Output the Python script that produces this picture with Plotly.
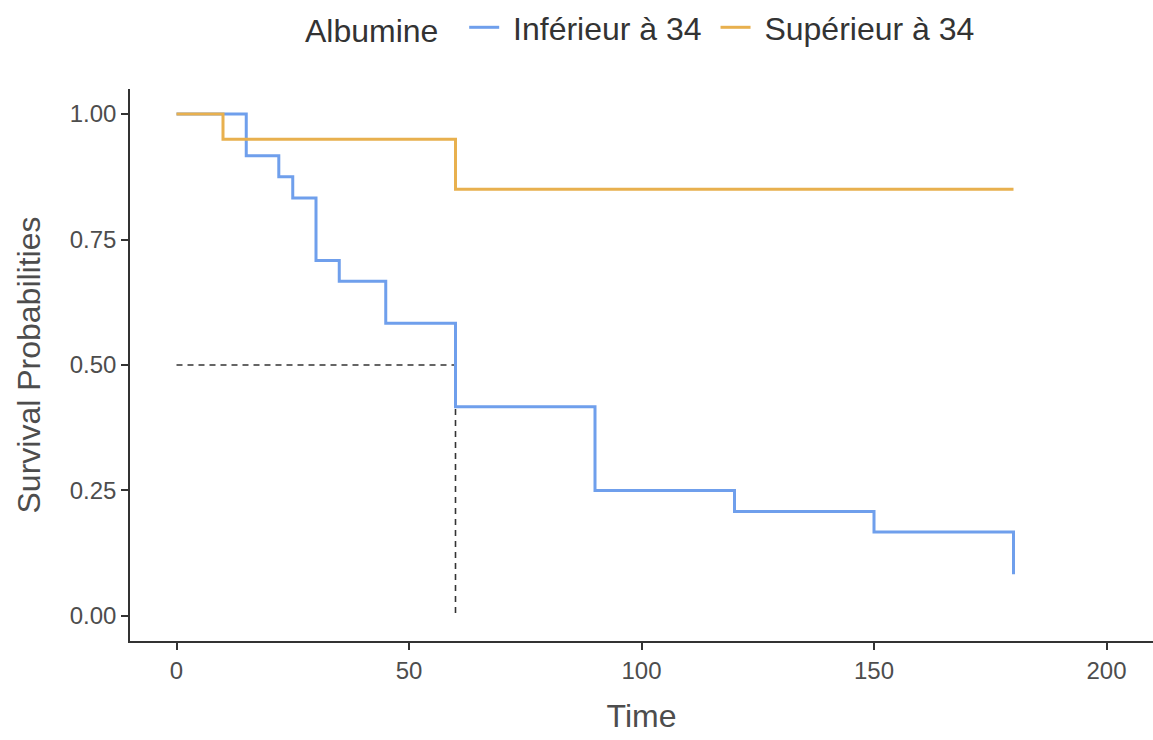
import plotly.graph_objects as go

# Kaplan-Meier step data
time_inf = [0, 15, 22, 25, 30, 35, 45, 60, 90, 120, 150, 180]
surv_inf = [1.0, 0.917, 0.875, 0.833, 0.708, 0.667, 0.583, 0.417, 0.25, 0.208, 0.167, 0.083]
time_sup = [0, 10, 60, 180]
surv_sup = [1.0, 0.95, 0.85, 0.85]

median_time = 60
median_surv = 0.5

x_ticks = [0, 50, 100, 150, 200]
y_ticks = [0, 0.25, 0.5, 0.75, 1.0]
y_tick_labels = ["0.00", "0.25", "0.50", "0.75", "1.00"]

col_inf = "#6F9FEC"
col_sup = "#E8B04E"
font_family = "Liberation Sans, Arial, sans-serif"

fig = go.Figure()

# median lines
fig.add_trace(go.Scatter(x=[0, median_time], y=[median_surv, median_surv], mode="lines",
                         line=dict(color="#333333", width=1.6, dash="6px,5px"),
                         showlegend=False, hoverinfo="skip"))
fig.add_trace(go.Scatter(x=[median_time, median_time], y=[median_surv, 0], mode="lines",
                         line=dict(color="#333333", width=1.6, dash="6px,5px"),
                         showlegend=False, hoverinfo="skip"))

fig.add_trace(go.Scatter(x=time_inf, y=surv_inf, mode="lines", line_shape="hv",
                         line=dict(color=col_inf, width=3), name=" Inférieur à 34 "))
fig.add_trace(go.Scatter(x=time_sup, y=surv_sup, mode="lines", line_shape="hv",
                         line=dict(color=col_sup, width=3), name=" Supérieur à 34"))

fig.update_layout(
    width=1153, height=740,
    plot_bgcolor="white", paper_bgcolor="white",
    margin=dict(l=130, r=0, t=89, b=99),
    font=dict(family=font_family, color="#4d4d4d"),
    legend=dict(orientation="h", x=0.5, xanchor="center", y=1.0, yanchor="top",
                yref="container", title=dict(text="Albumine  ", font=dict(size=32, color="#333333")),
                font=dict(size=32, color="#333333"), traceorder="normal",
                itemwidth=30),
    xaxis=dict(range=[-10, 210], tickvals=x_ticks, ticks="outside", ticklen=7, tickwidth=1.5,
               tickcolor="#333333", showline=True, linecolor="#333333", linewidth=1.5,
               showgrid=False, zeroline=False,
               tickfont=dict(size=24, color="#4d4d4d"),
               title=dict(text="Time", font=dict(size=32, color="#4d4d4d"), standoff=22)),
    yaxis=dict(range=[-0.05, 1.05], tickvals=y_ticks, ticktext=y_tick_labels, ticks="outside",
               ticklen=7, tickwidth=1.5, tickcolor="#333333", showline=True, linecolor="#333333",
               linewidth=1.5, showgrid=False, zeroline=False,
               tickfont=dict(size=24, color="#4d4d4d"),
               title=dict(text="Survival Probabilities", font=dict(size=32, color="#4d4d4d"),
                          standoff=20)),
)

fig.write_html("out.html")
